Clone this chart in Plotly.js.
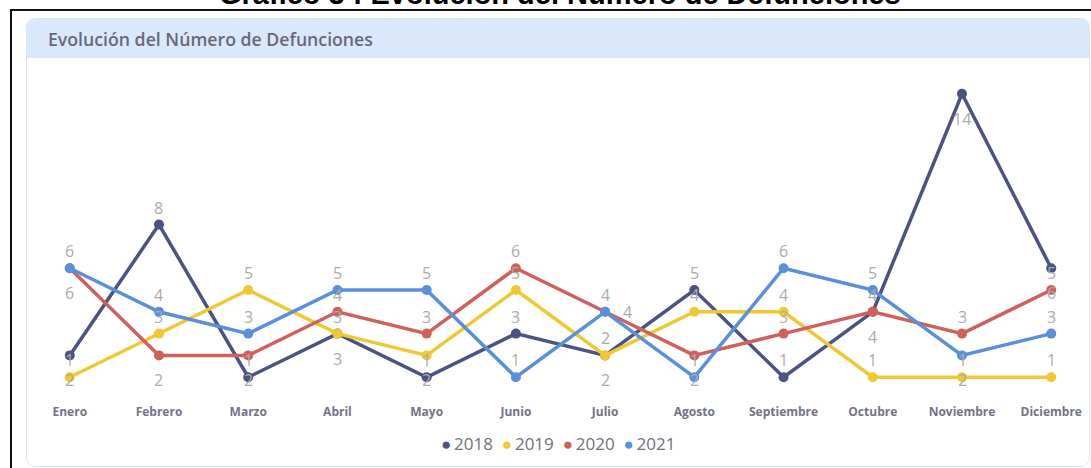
<!DOCTYPE html>
<html>
<head>
<meta charset="utf-8">
<script src="https://cdn.plot.ly/plotly-3.0.1.min.js"></script>
<style>
  html, body { margin:0; padding:0; background:#fff; width:1091px; height:468px; overflow:hidden; }
  #frame { position:absolute; left:10px; top:9px; width:1100px; height:480px; border-left:2px solid #111; border-top:2px solid #111; }
  #card { position:absolute; left:26px; top:18px; width:1062px; height:447px; border:1px solid #d9e5f7; border-radius:9px; background:#fff; overflow:hidden; }
  #cardhead { position:absolute; left:0; top:0; width:100%; height:39px; background:#dbe8fc; }
  #chart { position:absolute; left:0; top:0; width:1091px; height:468px; }
</style>
</head>
<body>
<div id="frame"></div>
<div id="card"><div id="cardhead"></div></div>
<div id="chart"></div>
<script>
const meses = ['Enero','Febrero','Marzo','Abril','Mayo','Junio','Julio','Agosto','Septiembre','Octubre','Noviembre','Diciembre'];
const anios = ['2018','2019','2020','2021'];
const v2018 = [2, 8, 1, 3, 1, 3, 2, 5, 1, 4, 14, 6];
const v2019 = [1, 3, 5, 3, 2, 5, 2, 4, 4, 1, 1, 1];
const v2020 = [6, 2, 2, 4, 3, 6, 4, 2, 3, 4, 3, 5];
const v2021 = [6, 4, 3, 5, 5, 1, 4, 1, 6, 5, 2, 3];

// styling: colours and data-label placement (t = above, b = below, r = right)
const colores = ['#4a5382', '#eec933', '#d0605a', '#5a8fdc'];
const colocacion = [
  'b t t b t t b t t b b b',
  't t t t b t t t t t t t',
  'b b b t t t r b t t t t',
  't t t t t t t t t t b t'
];
const shiftMap = { t: [0, 17], b: [0, -25], r: [22, 0] };

const series = [v2018, v2019, v2020, v2021];
const traces = series.map((vals, i) => ({
  type: 'scatter',
  mode: 'lines+markers',
  x: meses,
  y: vals,
  line: { color: colores[i], width: 3.5 },
  marker: { color: colores[i], size: 10 },
  name: anios[i],
  showlegend: false,
  hoverinfo: 'x+y+name',
  cliponaxis: false
}));

const labelAnnotations = [];
series.forEach((vals, i) => {
  const keys = colocacion[i].split(' ');
  vals.forEach((v, j) => {
    const s = shiftMap[keys[j]];
    labelAnnotations.push({
      x: meses[j], y: v, xref: 'x', yref: 'y',
      text: String(v), showarrow: false,
      xanchor: 'center', yanchor: 'middle',
      xshift: s[0], yshift: s[1],
      font: { family: 'Open Sans', size: 16, color: '#ababab' }
    });
  });
});

const legendText = anios.map((a, i) =>
  '<span style="color:' + colores[i] + ';font-size:17px">●</span>\u2009' + a
).join('&nbsp; ');

const layout = {
  width: 1091,
  height: 468,
  margin: { l: 43, r: 13, t: 72, b: 69 },
  paper_bgcolor: 'rgba(0,0,0,0)',
  plot_bgcolor: 'rgba(0,0,0,0)',
  showlegend: false,
  title: {
    text: 'Evolución del Número de Defunciones',
    x: 48 / 1091, xref: 'container', xanchor: 'left',
    y: 1 - 40 / 468, yref: 'container', yanchor: 'middle',
    font: { family: 'Open Sans', size: 17.7, color: '#68687a', weight: 600 }
  },
  xaxis: {
    type: 'category',
    range: [-0.3, 11.3],
    showgrid: false, zeroline: false, showline: false, ticks: '',
    ticklabelstandoff: 4,
    tickfont: { family: 'Open Sans', size: 12, color: '#737388', weight: 700 },
    fixedrange: true
  },
  yaxis: {
    range: [0, 15],
    visible: false, showgrid: false, zeroline: false,
    fixedrange: true
  },
  annotations: labelAnnotations.concat([
    {
      text: 'Gráfico 3 : Evolución del Número de Defunciones',
      xref: 'paper', yref: 'paper',
      x: (560 - 43) / 1035, y: 1 + (72 - 12) / 327,
      xanchor: 'center', yanchor: 'bottom', showarrow: false,
      font: { family: 'Liberation Sans, Arial', size: 29, color: '#000', weight: 700 }
    },
    {
      text: legendText,
      xref: 'paper', yref: 'paper',
      x: (558 - 43) / 1035, y: -(443 - 399) / 327,
      xanchor: 'center', yanchor: 'middle', showarrow: false,
      font: { family: 'Open Sans', size: 17, color: '#707080' }
    }
  ])
};

Plotly.newPlot('chart', traces, layout, { displayModeBar: false, staticPlot: true });
</script>
</body>
</html>
